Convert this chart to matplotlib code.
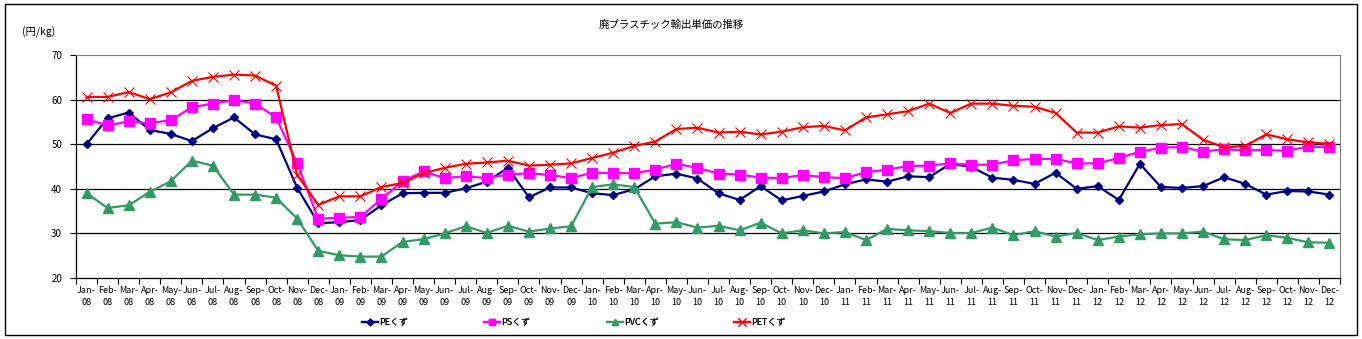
import matplotlib
matplotlib.use("Agg")
from matplotlib import pyplot as plt
from matplotlib.patches import Rectangle
import numpy as np

plt.rcParams["font.family"] = ["Noto Sans CJK JP", "DejaVu Sans"]

months = ["Jan", "Feb", "Mar", "Apr", "May", "Jun",
          "Jul", "Aug", "Sep", "Oct", "Nov", "Dec"]
years = ["08", "09", "10", "11", "12"]
labels = [m + "-\n" + y for y in years for m in months]

pe = [50.0, 55.8, 57.1, 53.2, 52.3, 50.7, 53.6, 56.0, 52.2, 51.1, 40.2, 32.3,
      32.5, 33.0, 36.3, 39.0, 39.1, 39.1, 40.1, 41.6, 44.7, 38.1, 40.3, 40.3,
      39.0, 38.6, 39.9, 42.8, 43.4, 42.3, 39.0, 37.5, 40.6, 37.4, 38.4, 39.4,
      41.0, 42.1, 41.6, 42.8, 42.6, 45.6, 44.9, 42.5, 42.0, 41.1, 43.6, 40.0,
      40.6, 37.5, 45.6, 40.4, 40.2, 40.6, 42.6, 41.1, 38.7, 39.5, 39.4, 38.7]
ps = [55.6, 54.2, 55.1, 54.7, 55.4, 58.3, 59.1, 59.9, 59.1, 56.0, 45.7, 33.3,
      33.5, 33.7, 37.7, 41.7, 43.9, 42.4, 42.8, 42.4, 43.2, 43.5, 43.1, 42.4,
      43.6, 43.5, 43.5, 44.3, 45.6, 44.7, 43.4, 43.2, 42.5, 42.4, 43.1, 42.6,
      42.4, 43.7, 44.3, 45.1, 45.2, 45.7, 45.4, 45.4, 46.4, 46.7, 46.7, 45.7,
      45.7, 46.9, 48.3, 49.2, 49.4, 48.3, 48.9, 48.6, 48.7, 48.5, 49.5, 49.3]
pvc = [39.0, 35.7, 36.3, 39.3, 41.7, 46.3, 45.2, 38.7, 38.7, 38.0, 33.3, 26.1,
       25.1, 24.8, 24.8, 28.1, 28.7, 30.0, 31.6, 30.1, 31.7, 30.4, 31.1, 31.6,
       40.4, 41.0, 40.4, 32.2, 32.5, 31.3, 31.7, 30.7, 32.4, 30.0, 30.7, 30.0,
       30.3, 28.5, 31.0, 30.7, 30.5, 30.1, 30.1, 31.3, 29.6, 30.5, 29.3, 30.1,
       28.5, 29.3, 29.8, 30.0, 30.0, 30.4, 28.7, 28.5, 29.6, 29.0, 28.0, 27.9]
pet = [60.6, 60.6, 61.7, 60.1, 61.6, 64.2, 65.1, 65.6, 65.4, 63.1, 43.1, 36.4,
       38.3, 38.3, 40.4, 41.3, 43.5, 44.7, 45.6, 45.9, 46.3, 45.2, 45.4, 45.7,
       46.9, 48.1, 49.6, 50.6, 53.4, 53.7, 52.6, 52.8, 52.2, 52.8, 53.8, 54.1,
       53.1, 56.0, 56.7, 57.4, 59.1, 57.0, 59.1, 59.1, 58.6, 58.4, 57.0, 52.6,
       52.6, 54.0, 53.7, 54.3, 54.5, 51.0, 49.3, 49.6, 52.2, 51.1, 50.4, 50.1]

fig = plt.figure(figsize=(13.62, 3.39), dpi=100)
fig.patches.append(Rectangle((0.004, 0.012), 0.992, 0.975, transform=fig.transFigure,
                             fill=False, edgecolor="black", linewidth=1))
ax = fig.add_axes([76 / 1362, 1 - 278 / 339, 1264 / 1362, 223 / 339])

x = np.arange(len(labels))
lines = []
lines += ax.plot(x, pe, color="#000080", marker="D", markersize=4.5, linewidth=1.6, label="PEくず")
lines += ax.plot(x, ps, color="#FF00FF", marker="s", markersize=6.5, linewidth=1.6, label="PSくず")
lines += ax.plot(x, pvc, color="#339966", marker="^", markersize=6.5, linewidth=1.6, label="PVCくず")
lines += ax.plot(x, pet, color="#FF0000", marker="x", markersize=7, markeredgewidth=0.8,
                 linewidth=1.6, label="PETくず")

ax.set_xlim(-0.5, len(labels) - 0.5)
ax.set_ylim(20, 70)
ax.set_yticks([20, 30, 40, 50, 60, 70])
ax.set_xticks(x)
ax.set_xticklabels(labels, fontsize=6.5, linespacing=1.4)
ax.set_xticks(np.arange(-0.5, len(labels), 1), minor=True)
ax.tick_params(axis="x", which="major", length=0, pad=6)
ax.tick_params(axis="x", which="minor", length=4, direction="out", width=0.8)
ax.tick_params(axis="y", length=4, direction="out", labelsize=7, pad=6, width=0.8)
for v in [30, 40, 50, 60]:
    ax.axhline(v, color="black", linewidth=0.9, zorder=0)
for side in ["top", "right"]:
    ax.spines[side].set_color("#808080")
ax.spines["left"].set_linewidth(0.9)
ax.spines["bottom"].set_linewidth(0.9)

fig.text(0.493, 1 - 25 / 339, "廃プラスチック輸出単価の推移", ha="center", va="center", fontsize=7.5)
fig.text(22 / 1362, 1 - 32 / 339, "(円/kg)", ha="left", va="center", fontsize=7.5)

# one legend per series, positioned like the original
leg_x = [362, 484, 607, 734]
for ln, lx in zip(lines, leg_x):
    leg = fig.legend(handles=[ln], loc="center left", bbox_to_anchor=(lx / 1362, 1 - 323 / 339),
                     frameon=False, fontsize=6.5, handlelength=1.8, handletextpad=0.1,
                     markerscale=0.75, borderpad=0, borderaxespad=0)
    fig.add_artist(leg)

fig.savefig("out.png", dpi=100)
